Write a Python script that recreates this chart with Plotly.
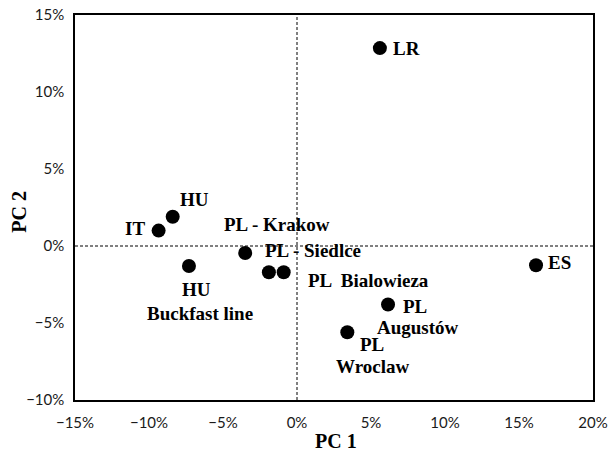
import plotly.graph_objects as go

# Data (values in percent)
names = ["LR", "HU", "IT", "HU Buckfast line", "PL - Krakow", "PL - Siedlce",
         "PL Bialowieza", "ES", "PL Augustów", "PL Wroclaw"]
pc1 = [5.6, -8.4, -9.35, -7.3, -3.5, -1.9, -0.9, 16.15, 6.15, 3.4]
pc2 = [12.85, 1.9, 1.0, -1.3, -0.45, -1.7, -1.7, -1.25, -3.8, -5.6]

x_ticks = [-15, -10, -5, 0, 5, 10, 15, 20]
y_ticks = [-10, -5, 0, 5, 10, 15]

def pct(v):
    return ("\u2212" if v < 0 else "") + f"{abs(v)}%"

# Label styling: (line text, xanchor, xshift, yshift) per point
label_style = [
    [("LR", "left", 11, 0)],
    [("HU", "center", 22, 17)],
    [("IT", "center", -24, 2)],
    [("HU", "center", 8, -23), ("Buckfast line", "center", 11, -47)],
    [("PL - Krakow", "center", 32, 28)],
    [("PL - Siedlce", "center", 44, 22)],
    [("PL  Bialowieza", "center", 85, -8)],
    [("ES", "left", 10, 3)],
    [("PL", "center", 27, -2), ("Augustów", "center", 30, -23)],
    [("PL", "center", 25, -12), ("Wroclaw", "center", 25, -34)],
]

LABEL_FONT = dict(family="Liberation Serif", size=19, color="black")
TITLE_FONT = dict(family="Liberation Serif", size=20, color="black")

fig = go.Figure()

fig.add_shape(type="line", x0=0, x1=0, y0=-10, y1=15, xref="x", yref="y",
              line=dict(color="black", width=1, dash="3px,2px"), layer="below")
fig.add_shape(type="line", x0=-15, x1=20, y0=0, y1=0, xref="x", yref="y",
              line=dict(color="black", width=1, dash="3px,2px"), layer="below")

fig.add_trace(go.Scatter(
    x=pc1, y=pc2, mode="markers", text=names,
    marker=dict(color="black", size=14),
    showlegend=False, hoverinfo="text",
))

annotations = []
for xv, yv, labs in zip(pc1, pc2, label_style):
    for txt, anchor, xs, ys in labs:
        annotations.append(dict(
            x=xv, y=yv, xref="x", yref="y", text=f"<b>{txt}</b>",
            showarrow=False, xanchor=anchor, yanchor="middle",
            xshift=xs, yshift=ys, font=LABEL_FONT,
        ))

# Axis titles
annotations.append(dict(x=0.504, y=-0.107, xref="paper", yref="paper",
                        text="<b>PC 1</b>", showarrow=False,
                        xanchor="center", yanchor="middle", font=TITLE_FONT))
annotations.append(dict(x=-0.107, y=0.488, xref="paper", yref="paper",
                        text="<b>PC 2</b>", showarrow=False, textangle=-90,
                        xanchor="center", yanchor="middle", font=TITLE_FONT))

axis_common = dict(
    showgrid=False, zeroline=False, showline=True, linecolor="black",
    linewidth=1.5, mirror=True, ticks="", automargin=False,
    tickfont=dict(family="Lato", size=15, color="#1a1a1a"),
)

fig.update_layout(
    width=608, height=455,
    margin=dict(l=75, r=15, t=15, b=55, autoexpand=False),
    paper_bgcolor="white", plot_bgcolor="white",
    annotations=annotations,
    xaxis=dict(range=[-15, 20], tickvals=x_ticks, ticktext=[pct(v) for v in x_ticks],
               ticklabelstandoff=8, **axis_common),
    yaxis=dict(range=[-10, 15], tickvals=y_ticks, ticktext=[pct(v) for v in y_ticks],
               ticklabelstandoff=6, **axis_common),
)

fig.write_html("out.html",
               config={"displayModeBar": False},
               post_script="document.body.style.margin='0';document.body.style.overflow='hidden';")
